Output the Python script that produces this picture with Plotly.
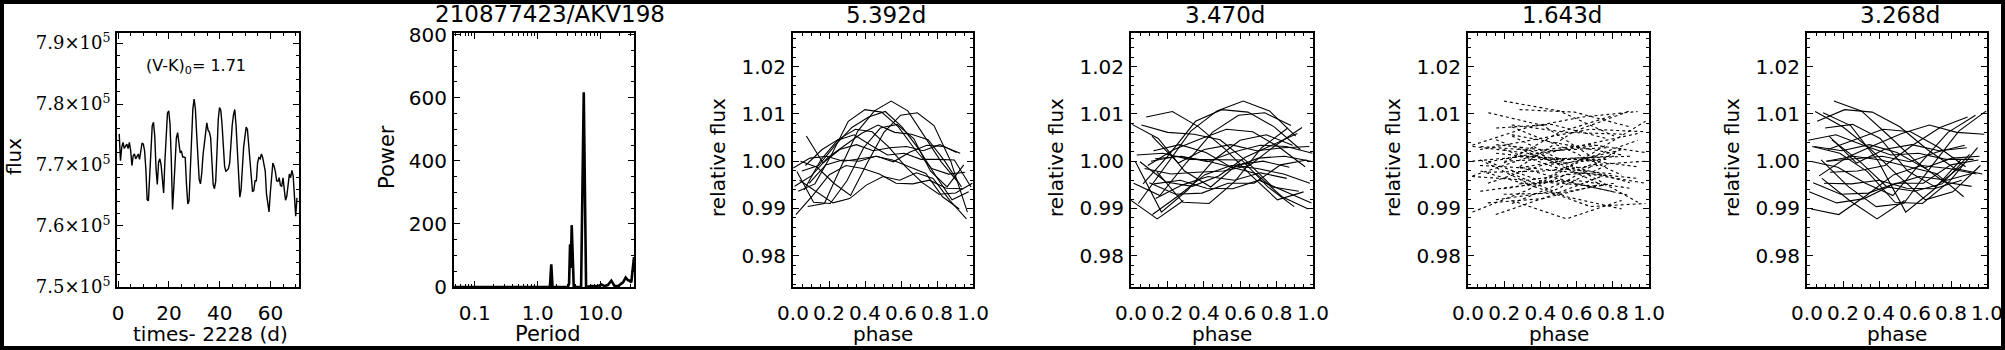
import numpy as np
import plotly.graph_objects as go

W, H = 2005, 350

# ---------------- data ----------------
time_d = [0.4, 0.9, 1.4, 1.9, 2.4, 2.9, 3.4, 3.9, 4.4, 4.9, 5.4, 5.9, 6.4, 6.9, 7.4, 7.9, 8.4, 8.9, 9.4, 9.9,
          10.4, 10.9, 11.4, 11.9, 12.4, 12.9, 13.4, 13.9, 14.4, 14.9, 15.4, 15.9, 16.4, 16.9, 17.4, 17.9, 18.4, 18.9, 19.4, 19.9,
          20.4, 20.9, 21.4, 21.9, 22.4, 22.9, 23.4, 23.9, 24.4, 24.9, 25.4, 25.9, 26.4, 26.9, 27.4, 27.9, 28.4, 28.9, 29.4, 29.9,
          30.4, 30.9, 31.4, 31.9, 32.4, 32.9, 33.4, 33.9, 34.4, 34.9, 35.4, 35.9, 36.4, 36.9, 37.4, 37.9, 38.4, 38.9, 39.4, 39.9,
          40.4, 40.9, 41.4, 41.9, 42.4, 42.9, 43.4, 43.9, 44.4, 44.9, 45.4, 45.9, 46.4, 46.9, 47.4, 47.9, 48.4, 48.9, 49.4, 49.9,
          50.4, 50.9, 51.4, 51.9, 52.4, 52.9, 53.4, 53.9, 54.4, 54.9, 55.4, 55.9, 56.4, 56.9, 57.4, 57.9, 58.4, 58.9, 59.4, 59.9,
          60.4, 60.9, 61.4, 61.9, 62.4, 62.9, 63.4, 63.9, 64.4, 64.9, 65.4, 65.9, 66.4, 66.9, 67.4, 67.9, 68.4, 68.9, 69.4, 69.9,
          70.4]
flux = [775100, 770700, 772900, 773700, 772700, 773200, 773400, 772700, 773700, 772400,
        769900, 771500, 771800, 771000, 771400, 771800, 770900, 772500, 773600, 773400,
        772300, 769300, 764300, 764100, 767800, 773200, 776400, 777000, 774700, 769400,
        766800, 770400, 771000, 770000, 767400, 765400, 770700, 775700, 778500, 778900,
        776800, 771000, 762700, 766300, 771200, 774400, 775300, 773600, 772000, 772300,
        771300, 771300, 771200, 766800, 763600, 764100, 770100, 775900, 779200, 780800,
        779200, 775100, 770900, 767600, 766900, 768600, 771600, 773600, 775500, 776900,
        775700, 775400, 774500, 771000, 766800, 766100, 767300, 772100, 777500, 779400,
        779000, 776600, 772900, 769800, 768900, 769200, 769400, 770300, 773600, 776500,
        778200, 779100, 776600, 773000, 768700, 764700, 766000, 770300, 772900, 774600,
        776200, 775800, 773300, 770100, 767500, 765600, 765800, 767400, 767400, 770400,
        771200, 771000, 771800, 771200, 770100, 769000, 765200, 763200, 762300, 765400,
        768800, 770300, 769800, 768900, 767400, 767300, 767900, 766600, 766500, 767900,
        766000, 764200, 764900, 767100, 768500, 767900, 769100, 768200, 764600, 761600,
        764600]

period_d = [0.047, 1.56, 1.643, 1.72, 3.01, 3.15, 3.268, 3.36, 3.47, 3.74, 4.89, 5.392, 5.87,
            7.2, 9.0, 10.3, 11.5, 13.0, 14.8, 16.5, 19.0, 21.0, 22.7, 25.0, 27.0, 28.9, 30.7, 33.9]
power = [0, 0, 72, 0, 0, 10, 135, 60, 196, 0, 0, 617, 0,
         3, 2, 8, 3, 6, 20, 4, 3, 10, 15, 30, 22, 20, 15, 95]

fold_periods = [5.392, 3.470, 1.643, 3.268]
fold_titles = ["5.392d", "3.470d", "1.643d", "3.268d"]

main_title = "210877423/AKV198"
color_index_label = "(V-K)<sub>0</sub>= 1.71"

lc_yticks = [750000, 760000, 770000, 780000, 790000]
lc_yticklabels = ["7.5×10<sup>5</sup>", "7.6×10<sup>5</sup>", "7.7×10<sup>5</sup>",
                  "7.8×10<sup>5</sup>", "7.9×10<sup>5</sup>"]
lc_xticks = [0, 20, 40, 60]
pg_xticks = [0.1, 1.0, 10.0]
pg_xticklabels = ["0.1", "1.0", "10.0"]
pg_yticks = [0, 200, 400, 600, 800]
ph_xticks = [0.0, 0.2, 0.4, 0.6, 0.8, 1.0]
ph_xticklabels = ["0.0", "0.2", "0.4", "0.6", "0.8", "1.0"]
ph_yticks = [0.98, 0.99, 1.00, 1.01, 1.02]
ph_yticklabels = ["0.98", "0.99", "1.00", "1.01", "1.02"]

# ---------------- layout geometry (pixels) ----------------
boxes = [(117, 299), (454, 634), (793, 973), (1131, 1313), (1468, 1649), (1807, 1987)]
box_top, box_bot = 33, 287
ydom = [1 - box_bot / H, 1 - box_top / H]

SANS = "DejaVu Sans, Liberation Sans, Arial, sans-serif"
SERIF = "DejaVu Serif, Liberation Serif, serif"
TICKFONT = dict(family=SANS, size=20, color="black")

fig = go.Figure()

t = np.array(time_d)
f = np.array(flux, dtype=float)

# Panel 1: light curve
fig.add_trace(go.Scatter(x=t, y=f, mode="lines", line=dict(color="black", width=1.4),
                         xaxis="x", yaxis="y", showlegend=False))
# Panel 2: periodogram
fig.add_trace(go.Scatter(x=period_d, y=power, mode="lines", line=dict(color="black", width=2.6),
                         xaxis="x2", yaxis="y2", showlegend=False))

# Panels 3-6: phase-folded normalised light curve
rel = f / np.median(f)
for i, P in enumerate(fold_periods):
    ph = (t % P) / P
    cyc = np.floor(t / P)
    xs, ys = [], []
    for j in range(len(t)):
        if j > 0 and cyc[j] != cyc[j - 1]:
            xs.append(None)
            ys.append(None)
        xs.append(float(ph[j]))
        ys.append(float(rel[j]))
    ax = str(i + 3)
    fig.add_trace(go.Scatter(x=xs, y=ys, mode="lines",
                             line=dict(color="black", width=1.1, dash="dot" if P < 2 else "solid"),
                             xaxis="x" + ax, yaxis="y" + ax, showlegend=False))


def base_axis(dom, anchor):
    return dict(domain=dom, anchor=anchor, showline=True, linecolor="black", linewidth=2,
                mirror="allticks", ticks="inside", ticklen=6, tickwidth=1, tickcolor="black",
                showgrid=False, zeroline=False, tickfont=TICKFONT, tickangle=0, automargin=False)


layout = dict(width=W, height=H, margin=dict(l=0, r=0, t=0, b=0, pad=0), template="none",
              paper_bgcolor="white", plot_bgcolor="white", showlegend=False)

for i, (x0, x1) in enumerate(boxes):
    n = "" if i == 0 else str(i + 1)
    xd = [x0 / W, x1 / W]
    xa = base_axis(xd, "y" + n)
    ya = base_axis(ydom, "x" + n)
    xa["ticklabelstandoff"] = 7
    ya["ticklabelstandoff"] = 1
    if i == 0:
        xa.update(range=[-0.47, 71.2], tickvals=lc_xticks,
                  minor=dict(ticks="inside", ticklen=3, dtick=5, tickcolor="black"))
        ya.update(range=[749960, 791660], tickvals=lc_yticks, ticktext=lc_yticklabels,
                  tickfont=dict(family=SERIF, size=18, color="black"),
                  minor=dict(ticks="inside", ticklen=3, dtick=2000, tickcolor="black"))
    elif i == 1:
        minor_vals = [m * 10.0 ** e for e in (-2, -1, 0, 1) for m in range(2, 10)]
        xa.update(type="log", range=[-1.33, 1.53], tickvals=pg_xticks, ticktext=pg_xticklabels,
                  minor=dict(ticks="inside", ticklen=3, tickvals=minor_vals, tickcolor="black"))
        ya.update(range=[0, 805], tickvals=pg_yticks,
                  minor=dict(ticks="inside", ticklen=3, dtick=50, tickcolor="black"))
    else:
        xa.update(range=[0, 1], tickvals=ph_xticks, ticktext=ph_xticklabels,
                  minor=dict(ticks="inside", ticklen=3, dtick=0.05, tickcolor="black"))
        ya.update(range=[0.9734, 1.0271], tickvals=ph_yticks, ticktext=ph_yticklabels,
                  minor=dict(ticks="inside", ticklen=3, dtick=0.002, tick0=0.98, tickcolor="black"))
    layout["xaxis" + n] = xa
    layout["yaxis" + n] = ya

fig.update_layout(**layout)


def ann(text, x, y, size=20, angle=0, family=SANS):
    fig.add_annotation(text=text, x=x / W, y=1 - y / H, xref="paper", yref="paper",
                       showarrow=False, xanchor="center", yanchor="middle", textangle=angle,
                       font=dict(family=family, size=size, color="black"))


ann("flux", 14, 157, size=20, angle=-90)
ann("times- 2228 (d)", 210, 334)
ann(color_index_label, 196, 67, size=16)
ann("Power", 387, 157, size=21, angle=-90)
ann("Period", 547, 334, size=21)
ann(main_title, 550, 14, size=23)
for i, ttl in enumerate(fold_titles):
    x0, x1 = boxes[i + 2]
    cx = (x0 + x1) / 2
    ann(ttl, cx + 3, 15, size=23)
    ann("relative flux", x0 - 75, 158, size=20, angle=-90)
    ann("phase", cx, 334)

# outer frame
fig.add_shape(type="rect", xref="paper", yref="paper", x0=2 / W, x1=1 - 2 / W, y0=2 / H, y1=1 - 2 / H,
              line=dict(color="black", width=4))

fig.write_html("out.html", config={"displayModeBar": False},
               post_script="document.body.style.margin='0px';document.body.style.padding='0px';"
                           "document.body.style.overflow='hidden';")
